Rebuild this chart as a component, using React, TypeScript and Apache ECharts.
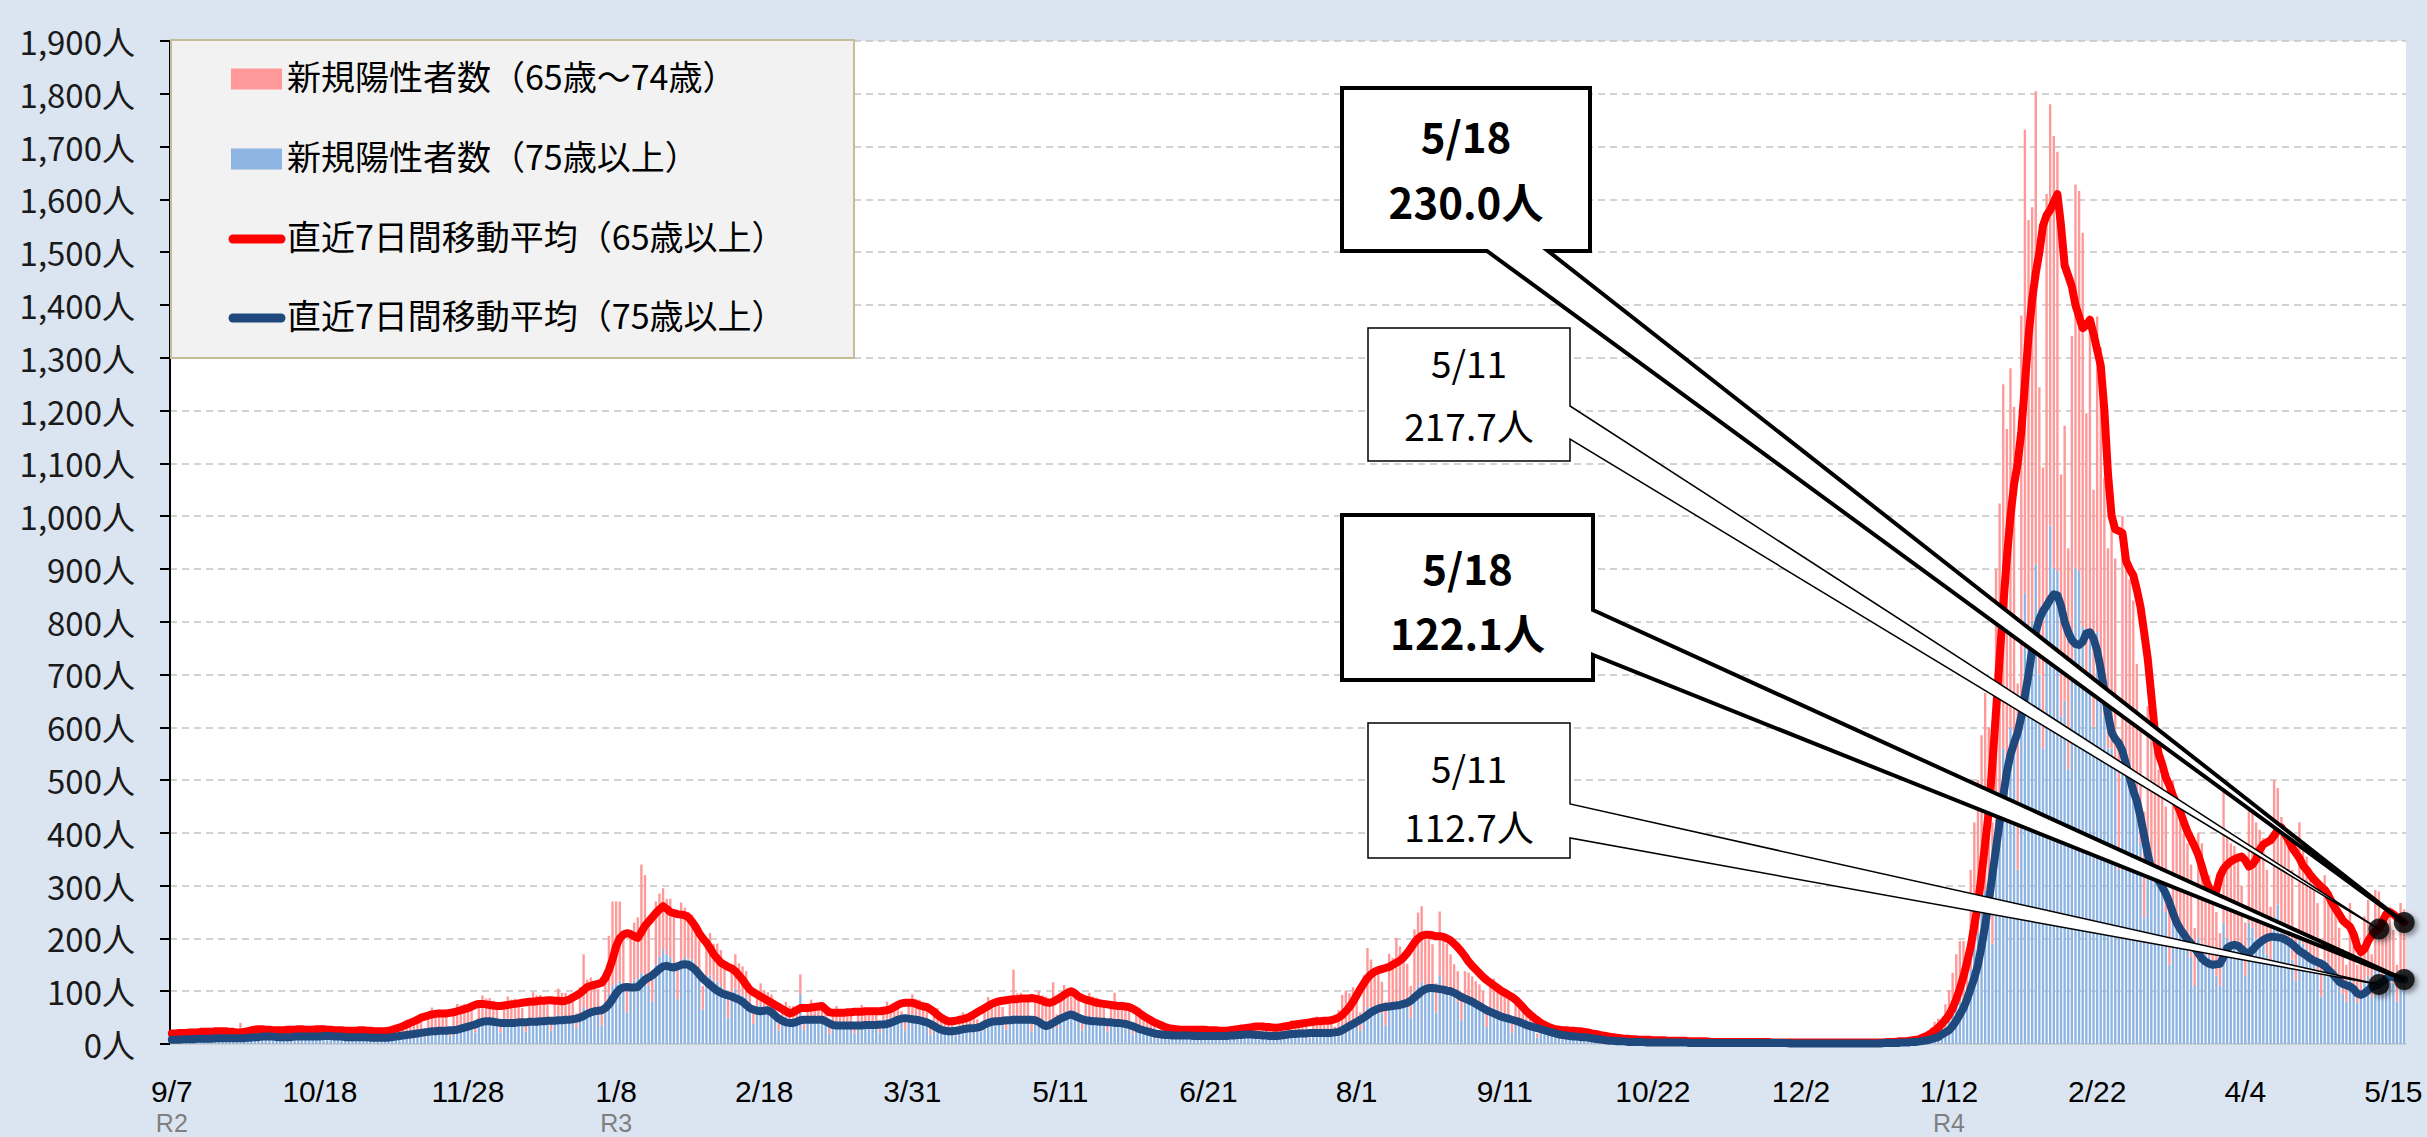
import React, { useEffect, useRef } from 'react';
import * as echarts from 'echarts';

const FONT = '"Noto Sans CJK JP", "Noto Sans", sans-serif';
const LATIN_FONT = '"Liberation Sans", "Noto Sans CJK JP", sans-serif';

// ---- categories (daily, from 2020-09-07 to 2022-05-18) ----
const START = { y: 2020, m: 9, d: 7 };
const N_DAYS = 619;
const LABEL_INTERVAL = 40; // one label every 41 days
const eraMarks: Record<number, string> = { 0: 'R2', 123: 'R3', 492: 'R4' };
const Y_MIN = 0;
const Y_MAX = 1900;
const Y_STEP = 100;

const NAME_P = '新規陽性者数（65歳～74歳）';
const NAME_B = '新規陽性者数（75歳以上）';
const NAME_R = '直近7日間移動平均（65歳以上）';
const NAME_N = '直近7日間移動平均（75歳以上）';

// ---- 7-day moving average, 65+ ----
const ma65 = [
  20,20,21,21,21,22,22,22,23,23, 23,23,24,24,24,24,23,23,22,22,
  23,24,26,27,28,28,27,27,26,26, 26,26,27,27,27,28,28,27,27,27,
  28,28,28,27,27,26,26,26,25,25, 25,25,26,26,25,25,24,24,24,24,
  25,27,29,31,34,37,40,43,46,50, 52,54,56,57,58,58,58,59,60,62,
  64,66,68,71,74,76,76,75,74,73, 72,72,73,74,75,76,77,78,79,80,
  80,81,82,82,83,83,82,82,81,82, 84,88,92,96,102,108,110,112,114,116,
  125,140,160,185,200,207,210,208,204,201, 212,224,232,240,248,255,261,256,250,248,
  246,245,244,240,232,222,210,200,192,182, 170,162,154,150,146,143,138,130,122,112,
  103,98,94,90,86,82,78,74,70,66, 62,58,60,64,68,68,68,69,70,71,
  72,66,60,59,59,59,59,60,60,61, 61,61,62,62,62,62,62,63,64,66,
  70,74,77,78,78,78,76,73,71,70, 66,61,55,50,46,43,43,44,46,47,
  49,52,56,60,64,68,72,76,79,81, 82,83,84,85,85,86,86,86,87,86,
  84,82,79,78,80,84,88,93,97,100, 96,90,87,84,82,80,78,77,76,75,
  74,73,72,72,71,70,67,63,58,53, 49,45,41,38,35,32,30,29,28,27,
  27,27,27,27,27,27,27,26,26,26, 25,25,25,26,27,28,29,30,31,32,
  33,33,33,32,32,31,31,32,33,34, 36,37,38,39,40,41,42,43,43,44,
  44,45,47,50,55,62,70,80,92,104, 115,125,132,137,140,142,144,146,150,154,
  158,164,172,182,192,200,205,207,207,206, 204,204,203,200,196,190,183,175,166,156,
  148,141,134,127,121,116,111,106,101,97, 93,89,84,77,70,62,56,50,45,40,
  36,33,30,28,27,26,26,25,25,24, 24,23,22,20,19,18,16,15,14,13,
  12,11,10,10,9,9,8,8,8,8, 7,7,7,7,6,6,6,6,6,6,
  5,5,5,5,5,5,4,4,4,4, 4,4,4,4,4,4,4,4,4,4,
  4,4,4,3,3,3,3,3,3,3, 3,3,3,3,3,3,3,3,3,3,
  3,3,3,3,3,3,3,3,3,3, 3,3,3,3,3,4,4,4,5,5,
  5,6,7,8,10,13,16,20,25,31, 38,46,55,68,85,105,128,155,185,225,
  265,320,380,440,530,630,730,830,920,1000, 1060,1100,1160,1250,1340,1410,1460,1500,1550,1570,
  1580,1595,1610,1550,1475,1455,1435,1400,1378,1356, 1362,1372,1345,1315,1285,1200,1080,1000,975,972,
  968,915,900,888,860,828,780,730,660,590, 550,530,505,490,470,455,440,420,402,388,
  374,358,336,312,295,285,290,318,332,340, 346,350,353,355,348,336,340,350,368,378,
  382,386,395,405,410,398,386,372,362,352, 338,330,320,312,305,298,292,282,268,256,
  246,234,228,222,208,185,174,180,195,206, 214,217.7,232,246,250,246,240,236,230.0,
];

// ---- 7-day moving average, 75+ ----
const ma75 = [
  8,8,8,9,9,9,9,10,10,10, 10,10,11,11,11,11,11,11,11,11,
  11,12,12,13,13,14,14,14,14,13, 13,13,13,13,14,14,14,14,14,14,
  14,14,15,15,15,14,14,14,13,13, 13,13,13,13,13,12,12,12,12,12,
  12,13,14,15,16,17,18,19,20,21, 22,23,24,24,25,25,25,26,26,27,
  29,31,33,35,37,40,42,43,43,42, 41,40,40,40,40,40,41,41,41,42,
  42,42,43,43,44,44,44,45,45,46, 46,47,48,50,53,57,60,62,63,64,
  68,75,85,96,104,107,108,107,107,108, 115,122,126,130,136,142,147,148,146,145,
  147,150,151,150,146,140,132,124,118,112, 106,101,97,94,92,90,87,84,80,74,
  68,65,63,62,63,64,60,54,48,44, 41,40,40,42,45,46,46,46,46,46,
  46,43,39,36,35,35,35,35,35,35, 35,35,36,36,36,36,37,37,38,40,
  43,46,48,49,48,47,46,45,43,41, 38,34,30,27,25,24,24,25,26,28,
  29,30,30,31,33,37,40,42,43,43, 44,45,45,46,46,46,46,46,46,45,
  42,37,34,36,40,44,48,51,54,56, 53,50,47,45,44,43,43,42,42,41,
  41,40,40,39,38,36,34,31,28,26, 24,22,20,19,18,17,17,16,16,16,
  16,16,16,15,15,15,15,15,15,15, 15,15,15,16,16,17,17,18,18,18,
  17,17,16,16,15,15,15,16,17,18, 19,19,20,20,20,21,21,21,21,21,
  21,21,22,23,26,30,34,38,42,46, 50,55,60,64,67,69,70,71,72,73,
  74,76,78,82,88,94,100,104,106,106, 105,104,103,101,100,97,93,89,86,83,
  80,76,72,68,64,61,58,55,52,50, 48,46,44,42,39,36,34,32,30,28,
  26,24,22,20,18,17,16,15,14,14, 13,13,12,11,10,9,8,7,6,6,
  5,5,5,4,4,4,4,4,3,3, 3,3,3,3,3,3,3,3,3,3,
  2,2,2,2,2,2,2,2,2,2, 2,2,2,2,2,2,2,2,2,2,
  2,2,2,2,2,2,2,2,1,1, 1,1,1,1,1,1,1,1,1,1,
  1,1,1,1,1,1,1,1,1,1, 1,1,1,1,2,2,2,2,2,3,
  3,3,4,4,5,6,7,9,11,13, 18,22,26,34,44,56,68,85,105,125,
  150,185,225,270,320,370,420,470,515,548, 570,590,620,660,700,745,780,805,820,830,
  842,852,850,830,800,780,765,758,756,762, 778,780,768,745,710,668,625,590,578,570,
  555,530,505,480,460,430,395,360,330,318, 310,298,285,268,248,230,218,208,198,190,
  182,172,162,156,152,150,151,152,165,182, 186,188,186,180,174,172,178,186,192,197,
  201,203,203,202,201,198,194,189,183,176, 172,167,162,158,155,152,148,140,134,126,
  118,114,111,109,104,96,93,96,102,108, 111,112.7,118,124,128,127,125,123,122.1,
];

// ---- daily new cases, 75+ (one row per week, Mon..Sun) ----
const cases75 = [
  5,9,11,10,10,9,8, 6,10,13,12,11,11,10, 6,11,14,12,12,13,10, 7,14,17,15,16,14,12,
  7,13,16,15,15,14,12, 8,14,17,16,16,15,13, 8,15,18,16,16,15,13, 7,13,16,15,14,14,12,
  6,12,15,14,13,13,12, 9,16,20,20,21,22,20, 13,24,29,27,28,27,24, 15,28,34,33,34,33,30,
  22,42,50,48,47,46,40, 22,40,48,46,46,44,38, 23,43,50,48,48,46,40, 25,45,55,52,51,50,43,
  30,56,70,64,66,63,56, 35,70,95,110,115,120,105, 60,105,120,125,135,130,110, 80,150,165,180,170,165,150,
  85,150,165,160,160,150,130, 65,115,130,120,118,110,95, 50,90,105,95,92,88,75, 38,65,75,70,68,66,58,
  26,44,52,48,48,46,95, 27,48,54,50,50,48,42, 20,36,42,39,38,37,32, 20,37,43,40,39,38,33,
  22,41,48,45,45,44,40, 26,48,56,52,52,50,44, 18,32,36,30,28,26,22, 16,28,34,32,31,30,27,
  24,40,49,46,46,45,40, 27,47,56,52,52,50,44, 24,40,48,45,44,42,37, 30,52,60,58,57,56,48,
  26,45,53,50,49,47,41, 24,41,47,44,43,42,36, 18,30,35,32,30,28,24, 10,18,20,19,18,17,15,
  9,16,18,17,17,16,14, 8,15,18,17,16,16,13, 10,17,21,19,19,18,15, 9,16,19,18,17,17,14,
  11,19,23,21,21,20,18, 12,21,25,24,23,23,19, 15,28,36,36,38,40,36, 25,55,70,68,66,65,58,
  35,75,78,80,82,80,72, 50,100,110,118,112,108,100, 60,130,105,100,95,88,80, 45,85,80,78,72,68,60,
  32,60,68,62,60,56,50, 22,42,48,42,40,37,32, 12,22,26,22,20,18,16, 8,16,18,16,15,14,12,
  5,10,11,9,8,7,6, 2,5,6,5,4,4,4, 1,3,4,4,3,3,3, 1,3,4,3,3,3,2,
  1,2,3,2,2,2,2, 1,2,3,2,2,2,2, 1,2,2,3,2,2,1, 1,2,2,2,2,2,1,
  0,1,2,1,1,1,1, 0,1,1,2,1,1,1, 0,1,2,1,1,1,1, 0,1,1,2,1,2,1,
  1,2,3,3,3,4,3, 2,5,7,9,13,16,18, 12,30,42,55,70,80,85, 70,140,180,210,250,290,270,
  190,400,450,560,540,600,590, 330,650,854,780,800,909,700, 560,829,982,902,896,620,650, 520,700,902,896,790,683,760,
  600,780,740,620,560,560,530, 330,560,540,500,480,430,380, 240,380,350,320,310,290,250, 150,260,235,210,200,185,165,
  110,200,190,170,165,150,130, 110,230,200,190,185,180,160, 130,230,220,200,200,190,170, 150,240,264,210,200,190,160,
  120,210,190,180,165,160,140, 90,160,145,135,125,110,95, 80,125,95,78,90,120,130, 90,140,140,125,120,130,115,
  80,140,135,
];

// ---- daily new cases, 65-74 (one row per week, Mon..Sun) ----
const cases6574 = [
  7,12,15,13,14,12,11, 7,13,16,14,13,14,11, 6,12,15,14,13,27,11, 8,15,18,15,16,14,12,
  7,14,17,15,15,14,12, 7,14,17,15,15,14,12, 7,14,16,14,15,13,11, 6,13,15,13,14,13,11,
  7,13,16,14,15,15,14, 12,20,26,25,28,30,27, 17,32,40,35,37,35,30, 18,35,42,40,42,38,35,
  18,36,42,38,40,36,30, 18,36,42,38,40,36,30, 22,42,48,44,45,42,36, 24,42,50,45,46,42,38,
  28,52,100,58,60,55,48, 30,60,110,160,155,150,110, 50,95,110,115,205,190,120, 60,120,120,115,105,110,90,
  60,118,93,90,85,80,65, 45,75,80,70,72,68,55, 35,60,65,58,55,50,40, 20,30,40,32,30,28,22,
  16,24,28,24,24,22,37, 14,24,30,26,26,25,20, 14,26,30,27,28,26,22, 15,26,31,28,27,26,22,
  16,28,32,28,28,26,22, 18,32,38,33,32,30,26, 16,28,32,26,24,20,18, 14,22,26,24,23,22,20,
  18,34,40,36,37,35,30, 22,42,85,44,45,42,36, 24,44,52,47,46,44,80, 26,44,52,48,47,45,38,
  22,38,44,40,39,37,32, 20,34,50,35,34,32,27, 16,28,32,28,26,24,20, 8,15,18,16,15,14,12,
  7,12,14,13,12,12,10, 6,11,13,12,11,11,9, 8,14,16,15,14,14,12, 10,17,20,18,18,17,14,
  11,19,22,20,20,19,16, 14,23,27,25,24,24,20, 18,36,57,65,58,68,52, 35,75,112,92,74,70,60,
  45,96,85,121,103,90,80, 60,117,139,143,102,92,89, 55,121,100,90,75,63,58, 40,53,55,50,47,45,40,
  28,50,56,52,50,46,40, 16,32,36,34,30,28,24, 8,12,14,12,10,9,8, 6,10,12,10,9,9,8,
  4,9,10,8,8,7,6, 3,6,7,6,5,5,4, 3,4,5,5,4,4,3, 2,3,4,3,3,3,3,
  2,3,4,3,3,3,2, 1,2,3,2,2,2,2, 1,2,3,2,2,2,2, 1,2,2,2,1,2,1,
  1,2,2,2,2,2,1, 1,2,2,2,2,2,1, 1,2,2,2,2,1,2, 1,2,2,2,2,2,1,
  1,2,3,3,4,4,3, 3,6,9,12,18,26,30, 20,45,60,80,100,115,110, 90,190,240,290,335,375,330,
  230,500,574,690,625,680,617, 353,730,878,781,785,896,544, 532,781,798,818,794,459,521, 419,641,726,720,747,512,612,
  450,598,580,453,379,420,390, 230,440,420,380,360,290,220, 200,260,240,240,210,230,200, 110,240,225,210,200,195,175,
  110,200,190,160,155,150,120, 100,250,200,190,190,180,140, 100,236,224,220,206,200,160, 110,260,221,220,199,200,170,
  100,210,190,175,165,164,127, 70,160,145,135,125,110,85, 70,142,90,72,80,122,143, 80,152,149,115,122,130,101,
  70,127,120,
];

// annotated points: [day index, which moving average]
const annotated: { idx: number; key: 'ma65' | 'ma75'; bold: boolean }[] = [
  { idx: 618, key: 'ma65', bold: true },
  { idx: 611, key: 'ma65', bold: false },
  { idx: 618, key: 'ma75', bold: true },
  { idx: 611, key: 'ma75', bold: false },
];

// callout box layout (pixels) — box [x0,y0,x1,y1], wedge base on a side
const calloutLayout = [
  { box: [1342, 88, 1590, 251], side: 'bottom', a: 1487, b: 1548, t1: 134, t2: 200 },
  { box: [1368, 328, 1570, 461], side: 'right', a: 406, b: 439, t1: 362, t2: 425 },
  { box: [1342, 515, 1593, 680], side: 'right', a: 610, b: 655, t1: 566, t2: 631 },
  { box: [1368, 723, 1570, 858], side: 'right', a: 804, b: 838, t1: 767, t2: 826 },
];

const COLORS = { pink: '#ff9999', blue: '#8db4e2', red: '#ff0000', navy: '#1f497d' };

function buildCategories(): string[] {
  const out: string[] = [];
  for (let i = 0; i < N_DAYS; i++) {
    const dt = new Date(START.y, START.m - 1, START.d + i);
    out.push(`${dt.getMonth() + 1}/${dt.getDate()}`);
  }
  return out;
}

function legendGraphics(): any[] {
  const items = [
    { name: NAME_P, kind: 'rect', color: COLORS.pink, y: 79 },
    { name: NAME_B, kind: 'rect', color: COLORS.blue, y: 159 },
    { name: NAME_R, kind: 'line', color: COLORS.red, y: 239 },
    { name: NAME_N, kind: 'line', color: COLORS.navy, y: 318 },
  ];
  const g: any[] = [
    {
      type: 'rect', z: 10,
      shape: { x: 171, y: 40, width: 683, height: 318 },
      style: { fill: '#f2f2f2', stroke: '#c4bd97', lineWidth: 2 },
    },
  ];
  items.forEach((it) => {
    if (it.kind === 'rect') {
      g.push({ type: 'rect', z: 11, shape: { x: 231, y: it.y - 10.5, width: 51, height: 21 }, style: { fill: it.color } });
    } else {
      g.push({ type: 'line', z: 11, shape: { x1: 233, y1: it.y, x2: 281, y2: it.y }, style: { stroke: it.color, lineWidth: 9, lineCap: 'round' } });
    }
    g.push({
      type: 'text', z: 11, x: 287, y: it.y - 4,
      style: { text: it.name, fill: '#000', fontSize: 34, fontFamily: FONT, align: 'left', verticalAlign: 'middle', textAlign: 'left', textVerticalAlign: 'middle' },
    });
  });
  return g;
}

export default function App() {
  const ref = useRef<HTMLDivElement>(null);

  useEffect(() => {
    if (!ref.current) return;
    const chart = echarts.init(ref.current, null, { renderer: 'svg' });
    const categories = buildCategories();
    const lines = { ma65, ma75 };

    const option: any = {
      animation: false,
      backgroundColor: '#dbe5f1',
      grid: { left: 170, right: 21, top: 41, bottom: 93, show: true, backgroundColor: '#ffffff', borderWidth: 0 },
      xAxis: [
        {
          type: 'category',
          data: categories,
          boundaryGap: true,
          axisLine: { show: true, lineStyle: { color: '#d0d0d0', width: 2 } },
          axisTick: { show: false },
          splitLine: { show: false },
          axisLabel: {
            interval: LABEL_INTERVAL,
            margin: 32,
            fontSize: 30,
            color: '#000',
            fontFamily: LATIN_FONT,
          },
        },
        {
          type: 'category',
          data: categories,
          position: 'bottom',
          boundaryGap: true,
          axisLine: { show: false },
          axisTick: { show: false },
          splitLine: { show: false },
          axisLabel: {
            interval: (idx: number) => eraMarks[idx] !== undefined,
            margin: 66,
            fontSize: 25,
            color: '#7f7f7f',
            fontFamily: LATIN_FONT,
            formatter: (_v: string, idx: number) => eraMarks[idx] || '',
          },
        },
      ],
      yAxis: {
        type: 'value',
        min: Y_MIN,
        max: Y_MAX,
        interval: Y_STEP,
        axisLine: { show: true, lineStyle: { color: '#000', width: 2 } },
        axisTick: { show: true, length: 10, lineStyle: { color: '#000', width: 2 } },
        axisLabel: {
          margin: 35,
          fontSize: 33,
          color: '#1a1a1a',
          fontFamily: FONT,
          formatter: (v: number) => `${v.toLocaleString('en-US')}人`,
        },
        splitLine: { show: true, lineStyle: { color: '#c3c3c3', width: 1.5, type: [7, 5] } },
      },
      series: [
        {
          name: NAME_B, type: 'bar', stack: 'cases', data: cases75,
          itemStyle: { color: COLORS.blue }, barCategoryGap: '34%',
        },
        {
          name: NAME_P, type: 'bar', stack: 'cases', data: cases6574,
          itemStyle: { color: COLORS.pink },
        },
        {
          name: NAME_R, type: 'line', data: ma65, showSymbol: false, symbol: 'none',
          lineStyle: { color: COLORS.red, width: 8, cap: 'round', join: 'round' },
        },
        {
          name: NAME_N, type: 'line', data: ma75, showSymbol: false, symbol: 'none',
          lineStyle: { color: COLORS.navy, width: 8, cap: 'round', join: 'round' },
        },
        {
          name: 'points', type: 'scatter', z: 20,
          data: annotated.map((a) => [a.idx, lines[a.key][a.idx]]),
          symbol: 'circle', symbolSize: 21,
          itemStyle: { color: '#000', shadowBlur: 5, shadowColor: 'rgba(0,0,0,0.5)', shadowOffsetX: 3, shadowOffsetY: 3 },
        },
      ],
    };
    chart.setOption(option);

    const graphics: any[] = legendGraphics();
    annotated.forEach((a, k) => {
      const value = lines[a.key][a.idx];
      const tip = chart.convertToPixel({ seriesIndex: 2 }, [a.idx, value]) as number[];
      const L = calloutLayout[k];
      const [x0, y0, x1, y1] = L.box;
      let pts: number[][];
      if (L.side === 'bottom') {
        pts = [[x0, y0], [x1, y0], [x1, y1], [L.b, y1], [tip[0], tip[1]], [L.a, y1], [x0, y1]];
      } else {
        pts = [[x0, y0], [x1, y0], [x1, L.a], [tip[0], tip[1]], [x1, L.b], [x1, y1], [x0, y1]];
      }
      graphics.push({
        type: 'polygon', z: 12 + k,
        shape: { points: pts },
        style: { fill: '#ffffff', stroke: '#000', lineWidth: a.bold ? 4 : 1.5, lineJoin: 'miter' },
      });
      const cx = (x0 + x1) / 2;
      const font = { fontSize: a.bold ? 42 : 37, fontWeight: a.bold ? 'bold' : 'normal', fontFamily: FONT };
      graphics.push({
        type: 'text', z: 16, x: cx, y: L.t1,
        style: { text: categories[a.idx], fill: '#000', ...font, align: 'center', verticalAlign: 'middle', textAlign: 'center', textVerticalAlign: 'middle' },
      });
      graphics.push({
        type: 'text', z: 16, x: cx, y: L.t2,
        style: { text: `${value.toFixed(1)}人`, fill: '#000', ...font, align: 'center', verticalAlign: 'middle', textAlign: 'center', textVerticalAlign: 'middle' },
      });
    });
    chart.setOption({ graphic: graphics });

    return () => chart.dispose();
  }, []);

  return (
    <div
      ref={ref}
      style={{ position: 'fixed', left: 0, top: 0, width: 2427, height: 1137, background: '#dbe5f1' }}
    />
  );
}
